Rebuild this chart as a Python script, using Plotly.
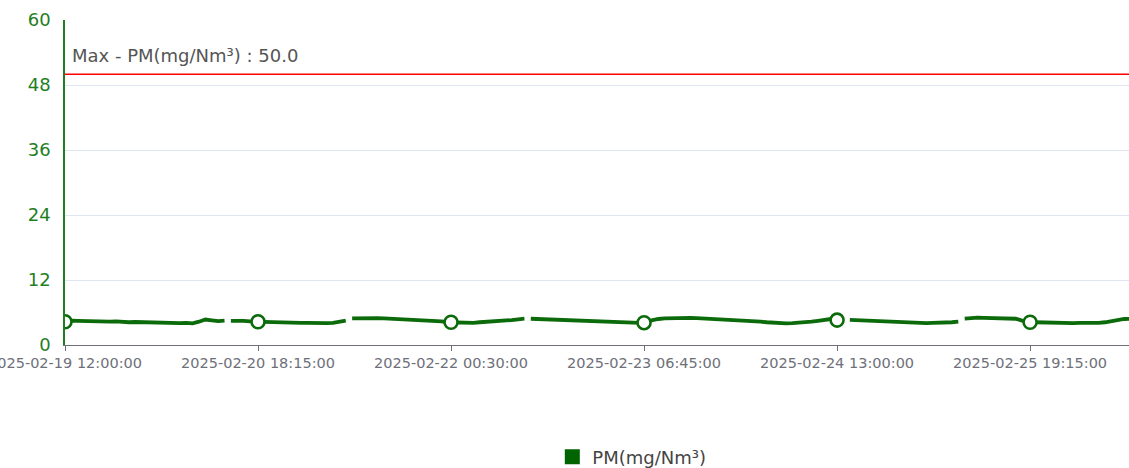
import pandas as pd
import plotly.graph_objects as go

# ---- data ----
start_time = "2025-02-19 12:00:00"
end_time = "2025-02-26 10:45:00"          # right edge of the x range
series_name = "PM(mg/Nm³)"
max_limit = 50.0

# hourly PM values starting at 2025-02-19 12:00
pm_hourly = [
    4.35, 4.5, 4.45, 4.4, 4.45, 4.35, 4.3, 4.3, 4.35, 4.25,
    4.2, 4.25, 4.2, 4.15, 4.2, 4.1, 4.15, 4.1, 4.05, 4.1,
    4.0, 4.3, 4.7, 4.55, 4.4, 4.5, 4.45, 4.5, 4.45, 4.35,
    4.3, 4.25, 4.2, 4.2, 4.15, 4.2, 4.15, 4.1, 4.1, 4.05,
    4.0, 4.05, 4.1, 4.35, 4.5, 4.9, 4.95, 5.0, 5.05, 4.95,
    4.9, 4.85, 4.8, 4.75, 4.7, 4.55, 4.5, 4.45, 4.45, 4.35,
    4.2, 4.15, 4.1, 4.15, 4.1, 4.2, 4.25, 4.3, 4.4, 4.5,
    4.6, 4.75, 4.85, 4.85, 4.8, 4.75, 4.7, 4.65, 4.6, 4.55,
    4.5, 4.45, 4.35, 4.3, 4.25, 4.2, 4.25, 4.2, 4.15, 4.1,
    4.1, 4.3, 4.6, 4.8, 4.9, 4.95, 5.0, 5.05, 5.0, 4.95,
    4.9, 4.85, 4.75, 4.7, 4.6, 4.55, 4.5, 4.4, 4.35, 4.3,
    4.2, 4.1, 4.05, 4.0, 4.05, 4.1, 4.15, 4.3, 4.45, 4.65,
    4.8, 4.6, 4.55, 4.65, 4.6, 4.5, 4.45, 4.35, 4.3, 4.2,
    4.15, 4.1, 4.1, 4.05, 4.1, 4.05, 4.1, 4.1, 4.15, 4.2,
    4.3, 4.85, 5.0, 5.05, 5.0, 4.95, 5.0, 4.95, 4.9, 4.85,
    4.5, 4.25, 4.2, 4.15, 4.1, 4.1, 4.05, 4.1, 4.05, 4.1,
    4.05, 4.05, 4.1, 4.2, 4.45, 4.7, 4.8, 4.85,
]
# data missing between these hour index and the next one
gap_after_hour = [25, 44, 72, 122, 140]

# labelled category points with their highlighted symbols
tick_labels = [
    "2025-02-19 12:00:00",
    "2025-02-20 18:15:00",
    "2025-02-22 00:30:00",
    "2025-02-23 06:45:00",
    "2025-02-24 13:00:00",
    "2025-02-25 19:15:00",
]
marker_values = [4.3, 4.3, 4.19, 4.12, 4.6, 4.2]

# ---- build series ----
t0 = pd.Timestamp(start_time)
xs, ys = [], []
for i, v in enumerate(pm_hourly):
    xs.append(t0 + pd.Timedelta(hours=i))
    ys.append(v)
    if i in gap_after_hour:
        xs.append(t0 + pd.Timedelta(hours=i + 0.5))
        ys.append(None)

tick_times = [pd.Timestamp(s) for s in tick_labels]

line_color = "#0b6b0b"
axis_green = "#1f7f1f"
FONT = "DejaVu Sans, Noto Sans, sans-serif"

fig = go.Figure()
fig.add_trace(go.Scatter(
    x=xs, y=ys, mode="lines", name=series_name,
    line=dict(color=line_color, width=3.8),
    connectgaps=False, showlegend=False, hoverinfo="skip",
))
fig.add_trace(go.Scatter(
    x=tick_times, y=marker_values, mode="markers", name=series_name,
    marker=dict(symbol="circle", size=13, color="white",
                line=dict(color=line_color, width=2.6)),
    showlegend=False,
))
# legend entry (square swatch)
fig.add_trace(go.Scatter(
    x=[None], y=[None], mode="markers", name=series_name,
    marker=dict(symbol="square", size=15, color="#006400"),
    showlegend=True,
))

# max limit mark line
fig.add_shape(type="line", xref="paper", x0=0, x1=1, yref="y",
              y0=max_limit, y1=max_limit,
              line=dict(color="#ff0000", width=1.5))
fig.add_annotation(
    xref="paper", x=0, yref="y", y=max_limit,
    text=f"Max - {series_name} : {max_limit:.1f}",
    showarrow=False, xanchor="left", yanchor="middle",
    xshift=5, yshift=19,
    font=dict(family=FONT, size=18, color="#555555"),
)

fig.update_layout(
    width=1129, height=468,
    margin=dict(l=65, r=0, t=20, b=123, autoexpand=False),
    paper_bgcolor="white", plot_bgcolor="white",
    font=dict(family=FONT),
    showlegend=True,
    legend=dict(orientation="h", x=0.458, xanchor="left",
                y=-0.345, yanchor="middle",
                font=dict(family=FONT, size=18, color="#444444"),
                itemwidth=30),
    xaxis=dict(
        type="date", automargin=False, ticklabeloverflow="allow",
        range=[t0, pd.Timestamp(end_time)],
        tickvals=tick_times, ticktext=tick_labels,
        tickfont=dict(family=FONT, size=14.5, color="#6e7079"),
        showline=True, linecolor="#6e7079", linewidth=1,
        ticks="outside", ticklen=5, tickcolor="#6e7079",
        showgrid=False, zeroline=False,
    ),
    yaxis=dict(
        automargin=False,
        range=[0, 60], tickvals=[0, 12, 24, 36, 48, 60],
        tickfont=dict(family=FONT, size=18, color=axis_green),
        showline=True, linecolor=axis_green, linewidth=1.5,
        ticks="outside", ticklen=9, tickcolor="rgba(0,0,0,0)",
        showgrid=True, gridcolor="#e0e6f1", gridwidth=1,
        zeroline=False,
    ),
)

fig.write_html(
    "out.html",
    config={"displayModeBar": False},
    post_script="document.body.style.margin='0';document.body.style.overflow='hidden';",
)
